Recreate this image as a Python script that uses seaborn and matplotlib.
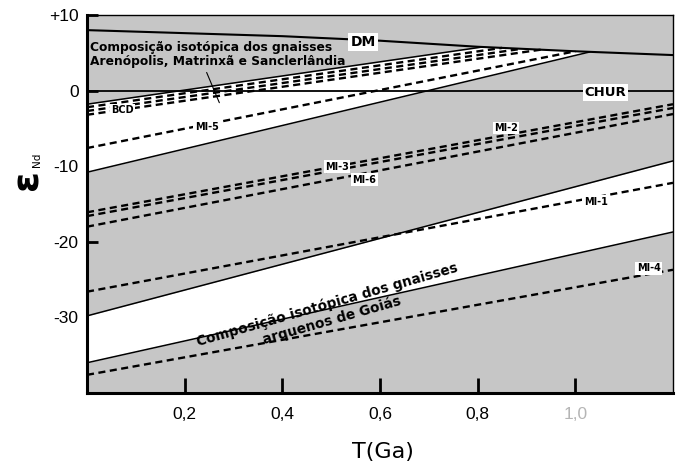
import numpy as np
import pandas as pd
import matplotlib
matplotlib.use("Agg")
import matplotlib.pyplot as plt
import seaborn as sns

# ---------------- data ----------------
T_DM = [0.0, 0.2, 0.4, 0.6, 0.8, 1.0, 1.2]
EPS_DM = [8.0, 7.6, 7.2, 6.6, 5.8, 5.2, 4.7]

T_CHUR = [0.0, 1.2]
EPS_CHUR = [0.0, 0.0]

# white field: Arenópolis, Matrinxã e Sanclerlândia gneisses
ARE_T_TOP = [0.0, 0.81]
ARE_EPS_TOP = [-1.8, 5.77]
ARE_T_BOT = [0.0, 1.03]
ARE_EPS_BOT = [-10.8, 5.12]

# white field: Archean gneisses of Goiás
GOI_T = [0.0, 1.2]
GOI_EPS_TOP = [-29.8, -9.3]
GOI_EPS_BOT = [-36.0, -18.7]

# sample evolution lines (dashed)
BCD_A_T, BCD_A_EPS = [0.0, 0.85], [-2.2, 5.65]
BCD_B_T, BCD_B_EPS = [0.0, 0.89], [-2.7, 5.53]
BCD_C_T, BCD_C_EPS = [0.0, 0.93], [-3.2, 5.42]
MI5_T, MI5_EPS = [0.0, 1.0], [-7.6, 5.2]
MI3_T, MI3_EPS = [0.0, 1.2], [-16.1, -1.8]
MI2_T, MI2_EPS = [0.0, 1.2], [-16.6, -2.3]
MI6_T, MI6_EPS = [0.0, 1.2], [-18.0, -3.1]
MI1_T, MI1_EPS = [0.0, 1.2], [-26.6, -12.2]
MI4_T, MI4_EPS = [0.0, 1.2], [-37.6, -23.7]

X_TICKS = [0.2, 0.4, 0.6, 0.8, 1.0]
X_TICK_LABELS = ["0,2", "0,4", "0,6", "0,8", "1,0"]
Y_TICKS = [10, 0, -10, -20, -30]
Y_TICK_LABELS = ["+10", "0", "-10", "-20", "-30"]

# leader line from top text to the field
LEADER_T = [0.245, 0.271]
LEADER_EPS = [2.4, -1.6]

# ---------------- style ----------------
sns.set_theme(style="white")
plt.rcParams["font.family"] = ["DejaVu Sans"]
plt.rcParams["text.color"] = "black"
plt.rcParams["xtick.color"] = "black"
plt.rcParams["ytick.color"] = "black"
plt.rcParams["axes.labelcolor"] = "black"

GRAY = "#c6c6c6"

fig = plt.figure(figsize=(6.82, 4.69), dpi=100)
ax = fig.add_axes([87 / 682, 1 - 393 / 469, 586 / 682, 378 / 469])
ax.set_facecolor(GRAY)

# ---- white fields ----
t_are = np.linspace(0.0, ARE_T_BOT[-1], 200)
top_line = np.interp(t_are, ARE_T_TOP, ARE_EPS_TOP, right=np.nan)
dm_vals = np.interp(t_are, T_DM, EPS_DM)
upper = np.where(np.isnan(top_line), dm_vals, np.minimum(top_line, dm_vals))
lower = np.interp(t_are, ARE_T_BOT, ARE_EPS_BOT)
ax.fill_between(t_are, lower, upper, color="white", lw=0, zorder=1)

t_goi = np.linspace(GOI_T[0], GOI_T[-1], 50)
ax.fill_between(t_goi, np.interp(t_goi, GOI_T, GOI_EPS_BOT),
                np.interp(t_goi, GOI_T, GOI_EPS_TOP),
                color="white", lw=0, zorder=1)

# ---- solid reference lines ----
solid = [
    (T_DM, EPS_DM, 1.5),
    (T_CHUR, EPS_CHUR, 1.3),
    (ARE_T_TOP, ARE_EPS_TOP, 1.1),
    (ARE_T_BOT, ARE_EPS_BOT, 1.1),
    (GOI_T, GOI_EPS_TOP, 1.1),
    (GOI_T, GOI_EPS_BOT, 1.1),
]
for t, e, lw in solid:
    sns.lineplot(x=t, y=e, ax=ax, color="black", lw=lw, sort=False,
                 estimator=None, legend=False, zorder=3)

# ---- dashed sample lines ----
dashed = [
    (BCD_A_T, BCD_A_EPS), (BCD_B_T, BCD_B_EPS), (BCD_C_T, BCD_C_EPS),
    (MI5_T, MI5_EPS), (MI3_T, MI3_EPS), (MI2_T, MI2_EPS), (MI6_T, MI6_EPS),
    (MI1_T, MI1_EPS), (MI4_T, MI4_EPS),
]
for t, e in dashed:
    sns.lineplot(x=t, y=e, ax=ax, color="black", lw=1.7, sort=False,
                 estimator=None, legend=False, zorder=4,
                 linestyle=(0, (3.0, 1.9)))

sns.lineplot(x=LEADER_T, y=LEADER_EPS, ax=ax, color="black", lw=0.8,
             sort=False, estimator=None, legend=False, zorder=4)

# ---- labels ----
box = dict(boxstyle="square,pad=0.15", fc="white", ec="none")
lab_kw = dict(ha="center", va="center", fontsize=7, fontweight="bold",
              zorder=6, color="black")
ax.text(0.565, 6.45, "DM", fontsize=10, fontweight="bold", ha="center",
        va="center", bbox=box, zorder=6)
ax.text(1.062, -0.2, "CHUR", fontsize=9.5, fontweight="bold", ha="center",
        va="center", bbox=box, zorder=6)
ax.text(0.073, -2.6, "BCD", bbox=box, **lab_kw)
ax.text(0.245, -4.8, "MI-5", bbox=box, **lab_kw)
ax.text(0.858, -4.95, "MI-2", bbox=box, **lab_kw)
ax.text(0.512, -10.1, "MI-3", bbox=box, **lab_kw)
ax.text(0.568, -11.8, "MI-6", bbox=box, **lab_kw)
ax.text(1.042, -14.7, "MI-1", bbox=box, **lab_kw)
ax.text(1.150, -23.5, "MI-4", bbox=box, **lab_kw)

ax.text(0.006, 4.75, "Composição isotópica dos gnaisses\n"
        "Arenópolis, Matrinxã e Sanclerlândia",
        ha="left", va="center", fontsize=8.8, fontweight="bold",
        linespacing=1.1, zorder=6)

ax.text(0.497, -29.3, "Composição isotópica dos gnaisses\narquenos de Goiás",
        ha="center", va="center", multialignment="center", fontsize=9.8,
        fontweight="bold", rotation=16, rotation_mode="anchor",
        linespacing=1.15, zorder=6)

# ---- axes ----
ax.set_xlim(0, 1.2)
ax.set_ylim(-40, 10)
ax.set_xticks(X_TICKS)
ax.set_xticklabels(X_TICK_LABELS)
ax.set_yticks(Y_TICKS)
ax.set_yticklabels(Y_TICK_LABELS)
ax.tick_params(axis="x", direction="in", length=11, width=2, pad=10,
               labelsize=12.5, bottom=True)
ax.tick_params(axis="y", direction="in", length=8, width=2, pad=6,
               labelsize=12.5, left=True)
for lbl in ax.get_xticklabels() + ax.get_yticklabels():
    lbl.set_fontfamily(["Liberation Sans", "DejaVu Sans"])
ax.get_xticklabels()[-1].set_color("#b5b5b5")

for side in ["left", "bottom"]:
    ax.spines[side].set_linewidth(2.2)
    ax.spines[side].set_color("black")
for side in ["top", "right"]:
    ax.spines[side].set_linewidth(1.0)
    ax.spines[side].set_color("black")
ax.grid(False)
ax.set_xlabel("")
ax.set_ylabel("")

fig.text(383 / 682, 1 - 452 / 469, "T(Ga)", ha="center", va="center",
         fontsize=16)
fig.text(28 / 682, 1 - 180 / 469, "ε", ha="center", va="center",
         fontsize=27, fontweight="bold", rotation=90)
fig.text(37 / 682, 1 - 160 / 469, "Nd", ha="center", va="center",
         fontsize=7.5, rotation=90)

fig.savefig("out.png", dpi=100)
